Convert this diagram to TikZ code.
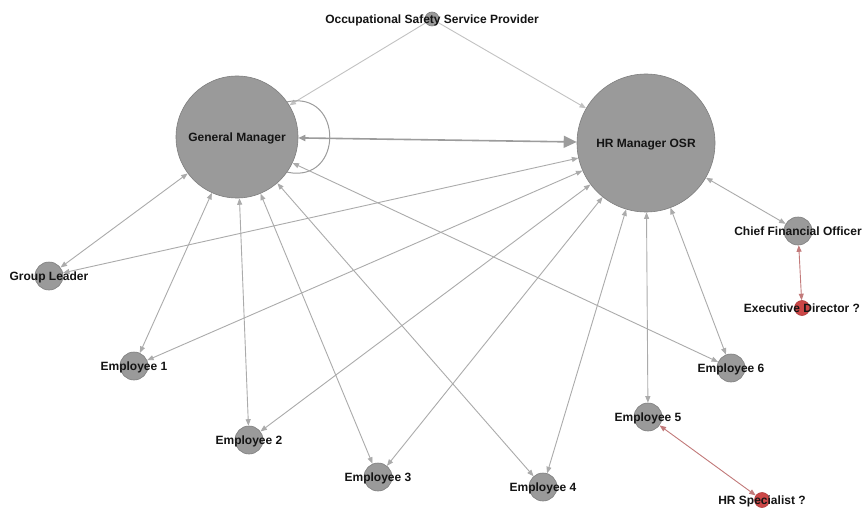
\documentclass[tikz,border=0pt]{standalone}
\usepackage{fontspec}
\setmainfont{Liberation Sans}
\usetikzlibrary{arrows.meta}

\definecolor{vertexfill}{HTML}{9A9A9A}
\definecolor{vertexline}{HTML}{7E7E7E}
\definecolor{flagfill}{HTML}{CC4747}
\definecolor{flagline}{HTML}{B03A3A}
\definecolor{linkgray}{HTML}{ABABAB}
\definecolor{linklight}{HTML}{C2C2C2}
\definecolor{linkdark}{HTML}{9C9C9C}
\definecolor{linkred}{HTML}{C27A7A}
\definecolor{labelink}{HTML}{141414}

\tikzset{
  vertex/.style={circle, inner sep=0pt, fill=vertexfill, draw=vertexline, line width=0.6pt},
  flagged/.style={circle, inner sep=0pt, fill=flagfill, draw=flagline, line width=0.6pt, minimum size=15pt},
  member/.style={vertex, minimum size=28pt},
  caption/.style={font=\bfseries\fontsize{12}{12}\selectfont, text=labelink, inner sep=0pt, anchor=base, yshift=-4.3pt},
  link/.style={draw=linkgray, line width=0.9pt, {Triangle[length=6.5pt,width=5pt]}-{Triangle[length=6.5pt,width=5pt]}},
  onelink/.style={draw=linklight, line width=0.9pt, -{Triangle[length=6.5pt,width=5pt]}},
  redlink/.style={draw=linkred, line width=0.9pt, {Triangle[length=6.5pt,width=5pt]}-{Triangle[length=6.5pt,width=5pt]}},
  mainlink/.style={draw=linkdark, line width=1.6pt, {Triangle[length=7pt,width=6pt]}-{Triangle[length=13pt,width=12pt]}},
  selfloop/.style={draw=linkdark, line width=1pt}
}

\begin{document}
\begin{tikzpicture}[x=1pt, y=-1pt]
\useasboundingbox[fill=white] (0,0) rectangle (862,508);

% vertices
\node[vertex, minimum size=14pt] (ossp) at (432,19) {};
\node[vertex, minimum size=122pt] (gm) at (237,137) {};
\node[vertex, minimum size=138pt] (hr) at (646,143) {};
\node[member] (cfo) at (798,231) {};
\node[flagged] (exd) at (802,308) {};
\node[member] (gl) at (49,276) {};
\node[member] (e1) at (134,366) {};
\node[member] (e2) at (249,440) {};
\node[member] (e3) at (378,477) {};
\node[member] (e4) at (543,487) {};
\node[member] (e5) at (648,417) {};
\node[member] (e6) at (731,368) {};
\node[flagged] (hrs) at (762,500) {};

% connections
\draw[onelink] (ossp) -- (gm);
\draw[onelink] (ossp) -- (hr);
\draw[mainlink] (gm) -- (hr);
\draw[selfloop] (gm.35) to[out=12, in=-12, distance=58pt] (gm.-35);
\draw[link] (gm) -- (gl);
\draw[link] (hr) -- (gl);
\draw[link] (gm) -- (e1);
\draw[link] (hr) -- (e1);
\draw[link] (gm) -- (e2);
\draw[link] (hr) -- (e2);
\draw[link] (gm) -- (e3);
\draw[link] (hr) -- (e3);
\draw[link] (gm) -- (e4);
\draw[link] (hr) -- (e4);
\draw[link] (gm) -- (e6);
\draw[link] (hr) -- (e6);
\draw[link] (hr) -- (e5);
\draw[link] (hr) -- (cfo);
\draw[redlink] (cfo) -- (exd);
\draw[redlink] (e5) -- (hrs);

% captions
\node[caption] (osspl) at (ossp) {Occupational Safety Service Provider};
\node[caption] (gml) at (gm) {General Manager};
\node[caption] (hrl) at (hr) {HR Manager OSR};
\node[caption] (cfol) at (cfo) {Chief Financial Officer};
\node[caption] (exdl) at (exd) {Executive Director ?};
\node[caption] (gll) at (gl) {Group Leader};
\node[caption] (e1l) at (e1) {Employee 1};
\node[caption] (e2l) at (e2) {Employee 2};
\node[caption] (e3l) at (e3) {Employee 3};
\node[caption] (e4l) at (e4) {Employee 4};
\node[caption] (e5l) at (e5) {Employee 5};
\node[caption] (e6l) at (e6) {Employee 6};
\node[caption] (hrsl) at (hrs) {HR Specialist ?};
\end{tikzpicture}
\end{document}
